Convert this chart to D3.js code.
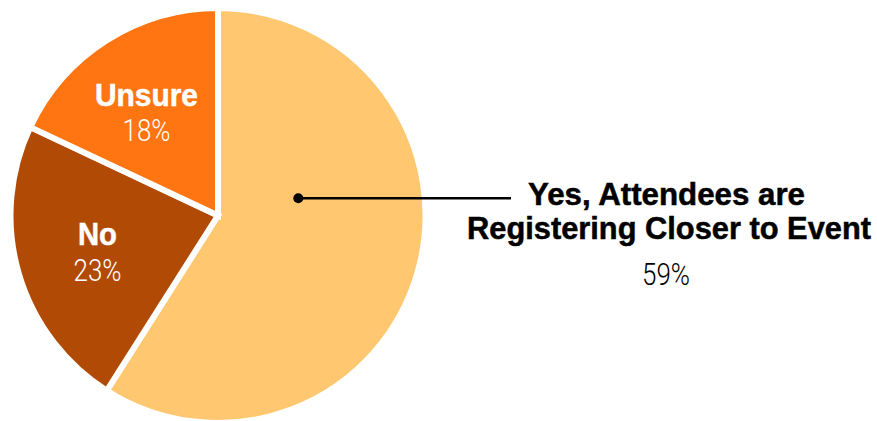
<!DOCTYPE html>
<html>
<head>
<meta charset="utf-8">
<script src="https://cdn.jsdelivr.net/npm/d3@7"></script>
<style>
  html, body { margin: 0; padding: 0; background: #fff; }
  svg { display: block; }
</style>
</head>
<body>
<svg id="chart" width="877" height="421"></svg>
<script>
const categories = ["Yes, Attendees are Registering Closer to Event", "No", "Unsure"];
const values = [59, 23, 18];
const colors = ["#FFC770", "#B14A04", "#FF7511"];

const svg = d3.select("#chart");
const cx = 218, cy = 215.5, R = 207.5;

const pie = d3.pie().sort(null).value(d => d.value);
const data = categories.map((c, i) => ({ name: c, value: values[i], color: colors[i] }));
const arcs = pie(data);
const arc = d3.arc().innerRadius(0).outerRadius(R);

const g = svg.append("g").attr("transform", `translate(${cx},${cy})`);
g.selectAll("path").data(arcs).enter().append("path")
  .attr("d", arc)
  .attr("fill", d => d.data.color)
  .attr("stroke", "#fff")
  .attr("stroke-width", 6)
  .attr("stroke-linejoin", "miter");

const boldFont = "'Liberation Sans', Arial, Helvetica, sans-serif";
const lightFont = "Roboto, 'Liberation Sans', sans-serif";

function boldText(x, y, str, fill, len) {
  svg.append("text").attr("x", x).attr("y", y)
    .attr("text-anchor", "middle")
    .attr("font-family", boldFont).attr("font-weight", "bold")
    .attr("font-size", 30.5).attr("fill", fill)
    .attr("stroke", fill).attr("stroke-width", 0.5)
    .attr("textLength", len).attr("lengthAdjust", "spacingAndGlyphs")
    .text(str);
}
function lightText(x, y, str, fill) {
  svg.append("text").attr("x", x).attr("y", y)
    .attr("text-anchor", "middle")
    .attr("font-family", lightFont).attr("font-weight", 300)
    .attr("font-size", 31.5).attr("fill", fill)
    .attr("textLength", 48).attr("lengthAdjust", "spacingAndGlyphs")
    .text(str);
}

// Inside labels for No and Unsure
const inside = [
  { i: 2, x: 146.5, y1: 105.5, y2: 141, len: 103 },
  { i: 1, x: 97.5, y1: 245, y2: 280.5, len: 39 }
];
inside.forEach(o => {
  const d = arcs[o.i];
  boldText(o.x, o.y1, d.data.name, "#fff", o.len);
  lightText(o.x, o.y2, d.data.value + "%", "#fff");
});

// Callout for Yes
const yes = arcs[0];
svg.append("line").attr("x1", 298).attr("y1", 198.3).attr("x2", 511).attr("y2", 198.3)
  .attr("stroke", "#000").attr("stroke-width", 2.6);
svg.append("circle").attr("cx", 298.3).attr("cy", 198.3).attr("r", 5).attr("fill", "#000");

const words = yes.data.name.split(" ");
const line1 = words.slice(0, 3).join(" ");
const line2 = words.slice(3).join(" ");
boldText(666.5, 204.5, line1, "#000", 277);
boldText(669, 238.5, line2, "#000", 404);
lightText(666, 285, yes.data.value + "%", "#000");
</script>
</body>
</html>
